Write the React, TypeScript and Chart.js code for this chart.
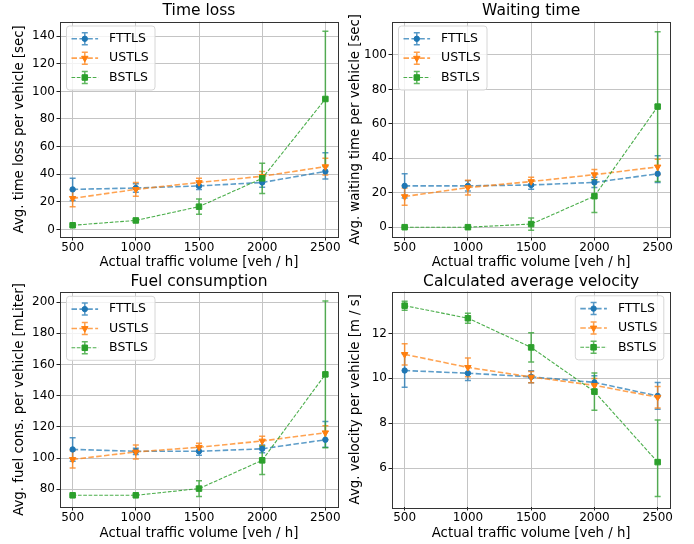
import React, { useEffect, useRef } from 'react';
import { Chart, registerables } from 'chart.js';

Chart.register(...registerables);

const FONT = "'DejaVu Sans', 'Noto Sans', sans-serif";

// ---------- shared data ----------
const trafficVolumes = [500, 1000, 1500, 2000, 2500];
const xTickValues = [500, 1000, 1500, 2000, 2500];
const seriesLabels = ['FTTLS', 'USTLS', 'BSTLS'];
const xAxisLabel = 'Actual traffic volume [veh / h]';

// ---------- Time loss ----------
const timeLossTicks = [0, 20, 40, 60, 80, 100, 120, 140];
const timeLossFTTLS = [29, 30, 31.5, 34, 42];
const timeLossFTTLSErrLow = [8, 3, 2.5, 3.5, 5.5];
const timeLossFTTLSErrHigh = [8, 3, 2.5, 3.5, 13.5];
const timeLossUSTLS = [22.5, 29, 34, 38.5, 45.5];
const timeLossUSTLSErr = [6, 5, 3, 3.5, 6];
const timeLossBSTLS = [3, 6.5, 16.5, 37, 94.5];
const timeLossBSTLSErr = [0.8, 1, 5.5, 11, 49];

// ---------- Waiting time ----------
const waitingTicks = [0, 20, 40, 60, 80, 100];
const waitingFTTLS = [24, 24, 24.5, 26, 31];
const waitingFTTLSErrLow = [7, 3, 2.5, 3, 5];
const waitingFTTLSErrHigh = [7, 3, 2.5, 3, 10.5];
const waitingUSTLS = [17.8, 23, 26.5, 30.5, 35];
const waitingUSTLSErr = [5, 4.3, 2.5, 3, 4.5];
const waitingBSTLS = [0, 0, 1.8, 18, 70];
const waitingBSTLSErr = [0.2, 0.2, 3.6, 9.5, 43.5];

// ---------- Fuel consumption ----------
const fuelTicks = [80, 100, 120, 140, 160, 180, 200];
const fuelFTTLS = [105.6, 104.4, 104.4, 106, 111.8];
const fuelFTTLSErrLow = [7.5, 2, 2.5, 2.5, 4.8];
const fuelFTTLSErrHigh = [7.5, 2, 2.5, 2.5, 11.7];
const fuelUSTLS = [99.2, 104, 107, 111, 116.3];
const fuelUSTLSErr = [5.5, 4.5, 2.5, 3, 4.5];
const fuelBSTLS = [76.2, 76.2, 80.5, 98.6, 153.7];
const fuelBSTLSErr = [0.5, 0.5, 5, 9, 47];

// ---------- Calculated average velocity ----------
const velocityTicks = [6, 8, 10, 12];
const velocityFTTLS = [10.35, 10.23, 10.07, 9.82, 9.22];
const velocityFTTLSErr = [0.75, 0.32, 0.27, 0.3, 0.6];
const velocityUSTLS = [11.07, 10.49, 10.06, 9.69, 9.16];
const velocityUSTLSErr = [0.47, 0.42, 0.25, 0.3, 0.48];
const velocityBSTLS = [13.24, 12.68, 11.38, 9.41, 6.27];
const velocityBSTLSErrLow = [0.2, 0.22, 0.65, 0.83, 1.53];
const velocityBSTLSErrHigh = [0.2, 0.22, 0.65, 0.83, 1.88];

// ---------- styles ----------
type SeriesStyle = {
  rgb: string;
  marker: 'circle' | 'triangle' | 'rect';
  radius: number;
  rotation: number;
  lineWidth: number;
  dash: number[];
  lineAlpha: number;
};

const seriesStyles: SeriesStyle[] = [
  { rgb: '31,119,180', marker: 'circle', radius: 2.7, rotation: 0, lineWidth: 1.6, dash: [5.5, 2.4], lineAlpha: 0.72 },
  { rgb: '255,127,14', marker: 'triangle', radius: 3.7, rotation: 180, lineWidth: 1.6, dash: [5.5, 2.4], lineAlpha: 0.72 },
  { rgb: '44,160,44', marker: 'rect', radius: 3.9, rotation: 0, lineWidth: 1.1, dash: [3.7, 1.6], lineAlpha: 0.85 },
];

type Series = { values: number[]; errLow: number[]; errHigh: number[] };

type Panel = {
  title: string;
  yLabel: string;
  left: number;
  top: number;
  plot: { l: number; t: number; r: number; b: number };
  yMin: number;
  yMax: number;
  yTicks: number[];
  series: Series[];
  legendSide: 'left' | 'right';
  titleCenter: number;
  yTitleCenter: number;
  xTitlePadBottom: number;
};

const CW = 347;
const CH = 272;

const panels: Panel[] = [
  {
    title: 'Time loss',
    yLabel: 'Avg. time loss per vehicle [sec]',
    left: 0, top: 0,
    plot: { l: 60, t: 21.7, r: 338, b: 237 },
    yMin: -5.5, yMax: 150.5, yTicks: timeLossTicks,
    series: [
      { values: timeLossFTTLS, errLow: timeLossFTTLSErrLow, errHigh: timeLossFTTLSErrHigh },
      { values: timeLossUSTLS, errLow: timeLossUSTLSErr, errHigh: timeLossUSTLSErr },
      { values: timeLossBSTLS, errLow: timeLossBSTLSErr, errHigh: timeLossBSTLSErr },
    ],
    legendSide: 'left', titleCenter: 11.3, yTitleCenter: 19.5, xTitlePadBottom: 1.2,
  },
  {
    title: 'Waiting time',
    yLabel: 'Avg. waiting time per vehicle [sec]',
    left: 347, top: 0,
    plot: { l: 392, t: 21.7, r: 670.3, b: 237 },
    yMin: -5.7, yMax: 119.3, yTicks: waitingTicks,
    series: [
      { values: waitingFTTLS, errLow: waitingFTTLSErrLow, errHigh: waitingFTTLSErrHigh },
      { values: waitingUSTLS, errLow: waitingUSTLSErr, errHigh: waitingUSTLSErr },
      { values: waitingBSTLS, errLow: waitingBSTLSErr, errHigh: waitingBSTLSErr },
    ],
    legendSide: 'left', titleCenter: 11.3, yTitleCenter: 8.5, xTitlePadBottom: 1.2,
  },
  {
    title: 'Fuel consumption',
    yLabel: 'Avg. fuel cons. per vehicle [mLiter]',
    left: 0, top: 272,
    plot: { l: 60, t: 292, r: 338, b: 507 },
    yMin: 68.7, yMax: 206.5, yTicks: fuelTicks,
    series: [
      { values: fuelFTTLS, errLow: fuelFTTLSErrLow, errHigh: fuelFTTLSErrHigh },
      { values: fuelUSTLS, errLow: fuelUSTLSErr, errHigh: fuelUSTLSErr },
      { values: fuelBSTLS, errLow: fuelBSTLSErr, errHigh: fuelBSTLSErr },
    ],
    legendSide: 'left', titleCenter: 9.8, yTitleCenter: 19.5, xTitlePadBottom: 2.5,
  },
  {
    title: 'Calculated average velocity',
    yLabel: 'Avg. velocity per vehicle [m / s]',
    left: 347, top: 272,
    plot: { l: 392, t: 291.5, r: 670.3, b: 507 },
    yMin: 4.27, yMax: 13.87, yTicks: velocityTicks,
    series: [
      { values: velocityFTTLS, errLow: velocityFTTLSErr, errHigh: velocityFTTLSErr },
      { values: velocityUSTLS, errLow: velocityUSTLSErr, errHigh: velocityUSTLSErr },
      { values: velocityBSTLS, errLow: velocityBSTLSErrLow, errHigh: velocityBSTLSErrHigh },
    ],
    legendSide: 'right', titleCenter: 9.8, yTitleCenter: 8.5, xTitlePadBottom: 2.5,
  },
];

function drawMarker(ctx: CanvasRenderingContext2D, st: SeriesStyle, x: number, y: number) {
  const r = st.radius;
  ctx.beginPath();
  if (st.marker === 'circle') {
    ctx.arc(x, y, r, 0, Math.PI * 2);
  } else if (st.marker === 'rect') {
    const s = Math.SQRT1_2 * r;
    ctx.rect(x - s, y - s, 2 * s, 2 * s);
  } else {
    let rad = (st.rotation * Math.PI) / 180;
    ctx.moveTo(x + Math.sin(rad) * r, y - Math.cos(rad) * r);
    rad += (2 * Math.PI) / 3;
    ctx.lineTo(x + Math.sin(rad) * r, y - Math.cos(rad) * r);
    rad += (2 * Math.PI) / 3;
    ctx.lineTo(x + Math.sin(rad) * r, y - Math.cos(rad) * r);
    ctx.closePath();
  }
  ctx.fillStyle = `rgb(${st.rgb})`;
  ctx.strokeStyle = `rgb(${st.rgb})`;
  ctx.lineWidth = 1;
  ctx.setLineDash([]);
  ctx.fill();
  ctx.stroke();
}

const ERR_ALPHA = 0.75;
const CAP = 3;

const errorBarPlugin = {
  id: 'errorBars',
  beforeDatasetsDraw(chart: any) {
    const ctx: CanvasRenderingContext2D = chart.ctx;
    const ys = chart.scales.y;
    chart.data.datasets.forEach((ds: any, i: number) => {
      const meta = chart.getDatasetMeta(i);
      const st: SeriesStyle = seriesStyles[i];
      ctx.save();
      ctx.strokeStyle = `rgba(${st.rgb},${ERR_ALPHA})`;
      ctx.lineWidth = 1.5;
      ctx.setLineDash([]);
      meta.data.forEach((pt: any, j: number) => {
        const v = ds.data[j].y;
        const yLo = ys.getPixelForValue(v - ds.errLow[j]);
        const yHi = ys.getPixelForValue(v + ds.errHigh[j]);
        const x = pt.x;
        ctx.beginPath();
        ctx.moveTo(x, yLo);
        ctx.lineTo(x, yHi);
        ctx.moveTo(x - CAP, yLo);
        ctx.lineTo(x + CAP, yLo);
        ctx.moveTo(x - CAP, yHi);
        ctx.lineTo(x + CAP, yHi);
        ctx.stroke();
      });
      ctx.restore();
    });
  },
};

const frameLegendPlugin = {
  id: 'frameLegend',
  afterDraw(chart: any) {
    const ctx: CanvasRenderingContext2D = chart.ctx;
    const a = chart.chartArea;
    ctx.save();
    // spines
    ctx.strokeStyle = '#333333';
    ctx.lineWidth = 1;
    ctx.setLineDash([]);
    ctx.strokeRect(Math.round(a.left) + 0.5, Math.round(a.top) + 0.5, Math.round(a.right - a.left), Math.round(a.bottom - a.top));

    // legend
    const side = chart.options.plugins.frameLegend.side;
    const bw = 88.5;
    const bh = 64;
    const bx = side === 'left' ? a.left + 6.5 : a.right - 6.5 - bw;
    const by = a.top + 4.3;
    ctx.beginPath();
    const rr = 3;
    ctx.moveTo(bx + rr, by);
    ctx.lineTo(bx + bw - rr, by);
    ctx.quadraticCurveTo(bx + bw, by, bx + bw, by + rr);
    ctx.lineTo(bx + bw, by + bh - rr);
    ctx.quadraticCurveTo(bx + bw, by + bh, bx + bw - rr, by + bh);
    ctx.lineTo(bx + rr, by + bh);
    ctx.quadraticCurveTo(bx, by + bh, bx, by + bh - rr);
    ctx.lineTo(bx, by + rr);
    ctx.quadraticCurveTo(bx, by, bx + rr, by);
    ctx.closePath();
    ctx.fillStyle = 'rgba(255,255,255,0.8)';
    ctx.fill();
    ctx.strokeStyle = '#d6d6d6';
    ctx.lineWidth = 1;
    ctx.stroke();

    seriesLabels.forEach((label, i) => {
      const st = seriesStyles[i];
      const cy = by + 12.8 + i * 19.35;
      const x0 = bx + 5;
      const x1 = bx + 31.6;
      const cx = (x0 + x1) / 2;
      // dashed handle
      ctx.beginPath();
      ctx.setLineDash(st.dash);
      ctx.strokeStyle = `rgba(${st.rgb},${st.lineAlpha})`;
      ctx.lineWidth = st.lineWidth;
      ctx.moveTo(x0, cy);
      ctx.lineTo(x1, cy);
      ctx.stroke();
      // error bar
      ctx.setLineDash([]);
      ctx.beginPath();
      ctx.strokeStyle = `rgba(${st.rgb},${ERR_ALPHA})`;
      ctx.lineWidth = 1.5;
      ctx.moveTo(cx, cy - 6);
      ctx.lineTo(cx, cy + 6);
      ctx.moveTo(cx - CAP, cy - 6);
      ctx.lineTo(cx + CAP, cy - 6);
      ctx.moveTo(cx - CAP, cy + 6);
      ctx.lineTo(cx + CAP, cy + 6);
      ctx.stroke();
      drawMarker(ctx, st, cx, cy);
      // text
      ctx.fillStyle = '#000';
      ctx.font = `12.5px ${FONT}`;
      ctx.textBaseline = 'middle';
      ctx.textAlign = 'left';
      ctx.fillText(label, bx + 42.6, cy);
    });
    ctx.restore();
  },
};

function PanelChart({ panel }: { panel: Panel }) {
  const ref = useRef<HTMLCanvasElement | null>(null);

  useEffect(() => {
    if (!ref.current) return;
    const relL = panel.plot.l - panel.left;
    const relT = panel.plot.t - panel.top;
    const relR = panel.plot.r - panel.left;
    const relB = panel.plot.b - panel.top;
    const titleLH = 15.5 * 1.2;
    const titlePadTop = panel.titleCenter - titleLH / 2;
    const titlePadBottom = relT - titlePadTop - titleLH;
    const axisTitleLH = 13.3 * 1.2;

    const datasets = panel.series.map((s, i) => {
      const st = seriesStyles[i];
      return {
        label: seriesLabels[i],
        data: s.values.map((v, j) => ({ x: trafficVolumes[j], y: v })),
        errLow: s.errLow,
        errHigh: s.errHigh,
        borderColor: `rgba(${st.rgb},${st.lineAlpha})`,
        backgroundColor: `rgb(${st.rgb})`,
        borderWidth: st.lineWidth,
        borderDash: st.dash,
        pointStyle: st.marker,
        pointRadius: st.radius,
        pointRotation: st.rotation,
        pointBackgroundColor: `rgb(${st.rgb})`,
        pointBorderColor: `rgb(${st.rgb})`,
        pointBorderWidth: 1,
        fill: false,
        tension: 0,
        order: 3 - i,
      };
    });

    const tickFont = { family: FONT, size: 12 };
    const axisTitleFont = { family: FONT, size: 13.3, lineHeight: 1.2 };
    const gridOpts = { color: '#c4c4c4', lineWidth: 1, drawTicks: true, tickLength: 3.5, tickColor: '#222', tickWidth: 1 };

    const chart = new Chart(ref.current, {
      type: 'line',
      data: { datasets: datasets as any },
      plugins: [errorBarPlugin, frameLegendPlugin],
      options: {
        responsive: false,
        animation: false,
        devicePixelRatio: 1,
        layout: { padding: { left: 0, top: 0, right: CW - relR, bottom: 0 } },
        plugins: {
          legend: { display: false },
          tooltip: { enabled: false },
          title: {
            display: true,
            fullSize: false,
            text: panel.title,
            color: '#000',
            font: { family: FONT, size: 15.5, weight: 'normal', lineHeight: 1.2 },
            padding: { top: titlePadTop, bottom: titlePadBottom },
          },
          frameLegend: { side: panel.legendSide },
        } as any,
        scales: {
          x: {
            type: 'linear',
            min: 400,
            max: 2600,
            afterBuildTicks: (axis: any) => {
              axis.ticks = xTickValues.map((v) => ({ value: v }));
            },
            afterFit: (axis: any) => {
              axis.height = CH - relB;
            },
            ticks: {
              font: tickFont,
              color: '#000',
              padding: 0.5,
              maxRotation: 0,
              autoSkip: false,
              callback: (v: any) => String(v),
            },
            grid: gridOpts,
            border: { display: false },
            title: {
              display: true,
              text: xAxisLabel,
              color: '#000',
              font: axisTitleFont,
              padding: { top: 0, bottom: panel.xTitlePadBottom },
            },
          },
          y: {
            type: 'linear',
            min: panel.yMin,
            max: panel.yMax,
            afterBuildTicks: (axis: any) => {
              axis.ticks = panel.yTicks.map((v) => ({ value: v }));
            },
            afterFit: (axis: any) => {
              axis.width = relL;
            },
            ticks: {
              font: tickFont,
              color: '#000',
              padding: 1.5,
              autoSkip: false,
              callback: (v: any) => String(v),
            },
            grid: gridOpts,
            border: { display: false },
            title: {
              display: true,
              text: panel.yLabel,
              color: '#000',
              font: axisTitleFont,
              padding: { top: panel.yTitleCenter - axisTitleLH / 2, bottom: 0 },
            },
          },
        },
      } as any,
    });
    return () => chart.destroy();
  }, [panel]);

  return (
    <canvas
      ref={ref}
      width={CW}
      height={CH}
      style={{ position: 'absolute', left: panel.left, top: panel.top, width: CW, height: CH }}
    />
  );
}

export default function App() {
  return (
    <div style={{ position: 'fixed', left: 0, top: 0, width: 694, height: 544, background: '#fff', overflow: 'hidden' }}>
      {panels.map((p) => (
        <PanelChart key={p.title} panel={p} />
      ))}
    </div>
  );
}
